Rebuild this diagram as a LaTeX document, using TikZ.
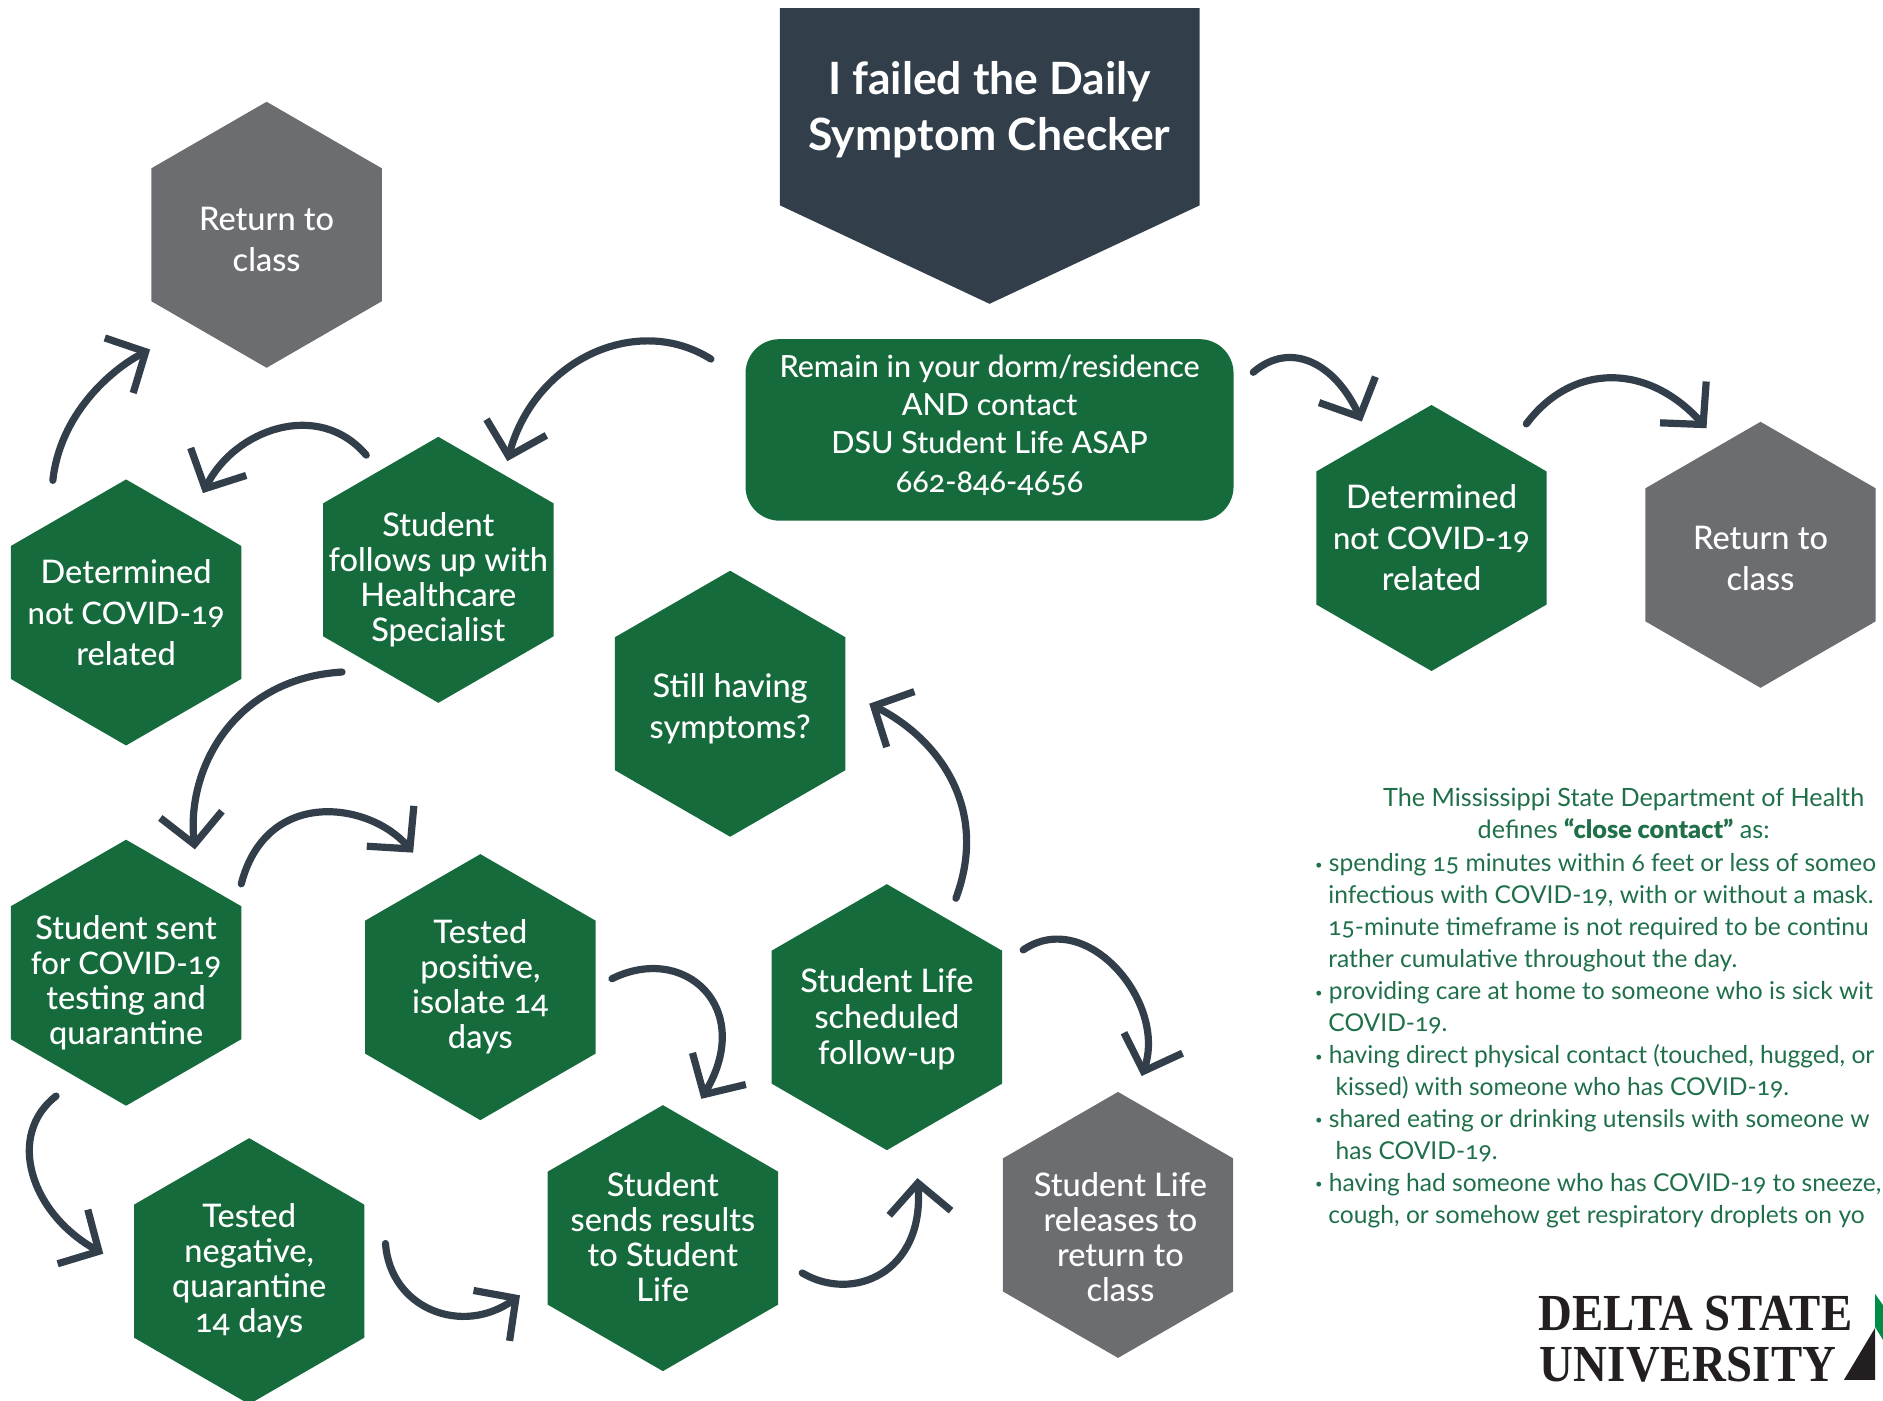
\documentclass[tikz,border=0pt]{standalone}
\usepackage{fontspec}
\usetikzlibrary{shapes.geometric,arrows.meta,calc}
\setmainfont{Lato}[Numbers=OldStyle]
\newfontfamily\medf{Lato Medium}[Numbers=OldStyle]
\newfontfamily\infof{Lato}[Numbers=OldStyle,BoldFont={Lato Black}]
\newfontfamily\logof{Liberation Serif Bold}[FakeStretch=0.9,LetterSpace=0.6]
\definecolor{dsugreen}{HTML}{156B3C}
\definecolor{dsudark}{HTML}{323F4B}
\definecolor{dsugray}{HTML}{6C6D70}
\definecolor{dsutext}{HTML}{1F7049}
\definecolor{dsuleaf}{HTML}{008B47}
\definecolor{dsuink}{HTML}{231F20}
\newcommand{\dsubul}{\makebox[13.8pt][l]{\fontsize{13}{13}\selectfont\raisebox{2.5pt}{\textbullet}}}
\newcommand{\dsunum}[1]{{\fontsize{31}{35}\selectfont #1}}
\tikzset{
  hexbase/.style={regular polygon,regular polygon sides=6,shape border rotate=30,minimum size=266pt,inner sep=0pt,outer sep=0pt},
  hexgreen/.style={hexbase,fill=dsugreen},
  hexgrey/.style={hexbase,fill=dsugray},
  hexlabelbase/.style={inner sep=0pt,outer sep=0pt,text=white,align=center},
  tight/.style={hexlabelbase,font=\medf\fontsize{32.5}{35}\selectfont},
  loose/.style={hexlabelbase,font=\medf\fontsize{32.5}{41}\selectfont},
  mid/.style={hexlabelbase,font=\medf\fontsize{32.5}{36}\selectfont},
  flow/.style={draw=dsudark,line width=7.2pt,line cap=round,-{Straight Barb[length=30pt,width=62pt,line width=7.2pt,sharp]}},
  infotext/.style={text=dsutext,inner sep=0pt,font=\infof\fontsize{24.6}{32}\selectfont},
  infoline/.style={infotext,anchor=base west},
  logotext/.style={text=dsuink,inner sep=0pt,anchor=base west,font=\logof\fontsize{52}{52}\selectfont}
}
\begin{document}
\begin{tikzpicture}[x=1.2009pt,y=-1.2009pt]
\useasboundingbox (0,0) rectangle (1568,1166);
% title
\fill[dsudark] (649.5,6.7) -- (999,6.7) -- (999,171) -- (824,253) -- (649.5,171) -- cycle;
\node[text=white,align=center,inner sep=0pt,font=\fontsize{44.5}{56}\selectfont\bfseries] (title) at (824,91.5) {I failed the Daily\\Symptom Checker};
\node[fill=dsugreen,rounded corners=34pt,minimum width=488pt,minimum height=181.5pt,inner sep=0pt,outer sep=0pt,
  label={[hexlabelbase,font=\medf\fontsize{30.5}{38.4}\selectfont,yshift=4.8pt]center:Remain in your dorm/residence\\AND contact\\DSU Student Life ASAP\\662-846-4656}] (box) at (824,358) {};
% hexagons
\node[hexgrey,label={[loose,yshift=-4.8pt]center:Return to\\class}] (R1) at (222,195.5) {};
\node[hexgreen,label={[loose]center:Determined\\\dsunum{not COVID-19}\\related}] (D1) at (105,510) {};
\node[hexgreen,label={[tight,yshift=-9.6pt]center:Student\\follows up with\\Healthcare\\Specialist}] (F) at (365,474.5) {};
\node[hexgreen,label={[loose,yshift=-4.8pt]center:Still having\\symptoms?}] (St) at (608,586) {};
\node[hexgreen,label={[loose]center:Determined\\\dsunum{not COVID-19}\\related}] (D2) at (1192,448) {};
\node[hexgrey,label={[loose,yshift=-3.6pt]center:Return to\\class}] (R2) at (1466,462) {};
\node[hexgreen,label={[tight,yshift=-9.6pt]center:Student sent\\\dsunum{for COVID-19}\\testing and\\quarantine}] (Se) at (105,810) {};
\node[hexgreen,label={[tight]center:Tested\\positive,\\isolate 14\\days}] (Po) at (400,822) {};
\node[hexgreen,label={[mid,yshift=-2.4pt]center:Student Life\\scheduled\\follow-up}] (SL) at (738.5,847) {};
\node[hexgreen,label={[tight]center:Tested\\negative,\\quarantine\\14 days}] (Ne) at (207.5,1058.5) {};
\node[hexgreen,label={[tight,yshift=1.2pt]center:Student\\sends results\\to Student\\Life}] (Re) at (552,1031) {};
\node[hexgrey,label={[tight,yshift=-12pt,xshift=2.4pt]center:Student Life\\releases to\\return to\\class}] (Rl) at (931,1020) {};
% connectors
\draw[flow] ($(box)+(-232,-59)$) .. controls (530,260) and (445,300) .. ($(F)+(57.5,-90.5)$);
\draw[flow] ($(F)+(-60,-95.5)$) .. controls (265,332) and (195,358) .. ($(D1)+(64,-99.4)$);
\draw[flow] ($(D1)+(-61,-110)$) .. controls (50,345) and (92,308) .. ($(R1)+(-97,95.5)$);
\draw[flow] ($(F)+(-80.2,85.1)$) .. controls (195,565) and (155,640) .. ($(Se)+(57.3,-102.7)$);
\draw[flow] ($(Se)+(95.9,-74)$) .. controls (222,655) and (308,668) .. ($(Po)+(-56,-112)$);
\draw[flow] ($(Se)+(-58.3,102.7)$) .. controls (5,945) and (25,1010) .. ($(Ne)+(-121.5,-14.5)$);
\draw[flow] ($(Ne)+(113.5,-23)$) .. controls (325,1090) and (385,1113) .. ($(Re)+(-119,47.6)$);
\draw[flow] ($(Po)+(109.6,-7)$) .. controls (570,785) and (629,839) .. ($(Re)+(32,-116)$);
\draw[flow] ($(Re)+(116,29)$) .. controls (710,1085) and (770,1060) .. ($(SL)+(25.5,134)$);
\draw[flow] ($(SL)+(57.5,-99)$) .. controls (825,670) and (778,613) .. ($(St)+(115.8,0)$);
\draw[flow] ($(SL)+(113.5,-56)$) .. controls (905,755) and (972,835) .. ($(Rl)+(19.7,-124)$);
\draw[flow] ($(box)+(219.6,-48)$) .. controls (1075,283) and (1112,303) .. ($(D2)+(-58,-97)$);
\draw[flow] ($(D2)+(79,-95)$) .. controls (1310,301) and (1373,303) .. ($(R2)+(-45,-105.4)$);
% info text
\node[infotext,align=center,anchor=base,font=\infof\fontsize{25.2}{32}\selectfont] (infohead) at (1352,698) {The Mississippi State Department of Health\\defines {\bfseries “close contact”} as:};
\node[infoline] (info1) at (1095,726) {\dsubul spending 15 minutes within 6 feet or less of someo};
\node[infoline] (info2) at (1106,752.6) {infectious with COVID-19, with or without a mask.};
\node[infoline] (info3) at (1106,779.2) {15-minute timeframe is not required to be continu};
\node[infoline] (info4) at (1106,805.8) {rather cumulative throughout the day.};
\node[infoline] (info5) at (1095,832.4) {\dsubul providing care at home to someone who is sick wit};
\node[infoline] (info6) at (1106,859) {COVID-19.};
\node[infoline] (info7) at (1095,885.6) {\dsubul having direct physical contact (touched, hugged, or};
\node[infoline] (info8) at (1112,912.2) {kissed) with someone who has COVID-19.};
\node[infoline] (info9) at (1095,938.8) {\dsubul shared eating or drinking utensils with someone w};
\node[infoline] (info10) at (1112,965.4) {has COVID-19.};
\node[infoline] (info11) at (1095,992) {\dsubul having had someone who has COVID-19 to sneeze,};
\node[infoline] (info12) at (1106,1018.6) {cough, or somehow get respiratory droplets on yo};
% logo
\node[logotext] (logo1) at (1280.7,1108) {DELTA STATE};
\node[logotext] (logo2) at (1282,1150.5) {UNIVERSITY};
\fill[dsuink] (1535.5,1149) -- (1561.4,1105.7) -- (1561.4,1149) -- cycle;
\fill[dsuleaf] (1561.4,1077.5) -- (1568,1086.8) -- (1568,1115.8) -- (1561.4,1105) -- cycle;
\end{tikzpicture}
\end{document}
